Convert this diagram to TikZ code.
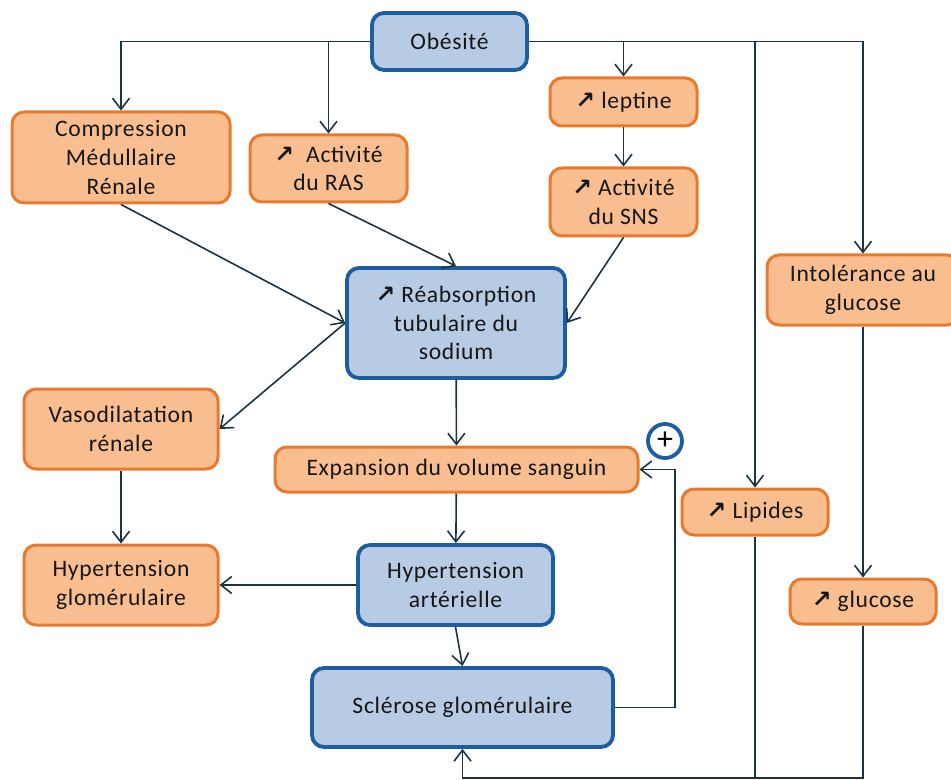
\documentclass[tikz,border=0pt]{standalone}
\usepackage{fontspec}
\setmainfont{Carlito}[LetterSpace=3]
\newfontfamily\symfont{DejaVu Sans}
\usetikzlibrary{arrows.meta}

\definecolor{orfill}{RGB}{249,190,143}
\definecolor{orline}{RGB}{232,121,45}
\definecolor{blfill}{RGB}{184,203,228}
\definecolor{blline}{RGB}{28,94,160}
\definecolor{fleche}{RGB}{28,52,66}
\definecolor{texte}{RGB}{22,22,22}

\newcommand{\hausse}{{\symfont\bfseries ↗}}

\tikzset{
  boite/.style={rectangle, rounded corners=6pt, align=center, inner sep=0pt,
    text=texte, font=\fontsize{11.8}{14.3}\selectfont},
  orangebox/.style={boite, draw=orline, fill=orfill, line width=1.5pt},
  bluebox/.style={boite, draw=blline, fill=blfill, line width=1.9pt},
  taille/.style 2 args={minimum width=#1*0.5pt, minimum height=#2*0.5pt},
  fl/.style={draw=fleche, line width=0.8pt, -{Straight Barb[length=5.5pt,width=8.5pt]}},
  trait/.style={draw=fleche, line width=0.8pt}
}

\begin{document}
\begin{tikzpicture}[x=0.5pt,y=-0.5pt]
\useasboundingbox (0,0) rectangle (951,780);

\node[bluebox, taille={155}{57}] (obesite) at (449.5,41.5) {Obésité};
\node[orangebox, taille={218}{91}] (compression) at (121,157.5) {Compression\\Médullaire\\Rénale};
\node[orangebox, taille={157}{67}] (ras) at (328.5,168.5) {\hausse\ \ Activité\\du RAS};
\node[orangebox, taille={147}{48}] (leptine) at (623.5,102) {\hausse\ leptine};
\node[orangebox, taille={147}{68}] (sns) at (623.5,202) {\hausse\ Activité\\du SNS};
\node[orangebox, taille={192}{70}] (intol) at (863,290) {Intolérance au\\glucose};
\node[bluebox, taille={218}{110}] (reab) at (456,323) {\hausse\ Réabsorption\\tubulaire du\\sodium};
\node[orangebox, taille={194}{80}] (vaso) at (121,429) {Vasodilatation\\rénale};
\node[orangebox, taille={363}{45}] (expansion) at (456.5,469.5) {Expansion du volume sanguin};
\node[orangebox, taille={146}{46}] (lipides) at (755,512) {\hausse\ Lipides};
\node[orangebox, taille={194}{80}] (hypglom) at (121,585) {Hypertension\\glomérulaire};
\node[bluebox, taille={195}{80}] (hypart) at (455.5,585) {Hypertension\\artérielle};
\node[orangebox, taille={146}{45}] (glucose) at (863,601.5) {\hausse\ glucose};
\node[bluebox, taille={301}{79}] (sclerose) at (462.5,707.5) {Sclérose glomérulaire};
\node[circle, draw=blline, line width=1.9pt, minimum size=17pt, inner sep=0pt,
  font=\fontsize{16}{16}\selectfont] (plus) at (665,441) {+};
\coordinate (bas) at (0,778);

\draw[fl] (obesite.west) -| (compression.north);
\draw[fl] (obesite.west -| ras.north) -- (ras.north);
\draw[fl] (obesite.east) -| (intol.north);
\draw[fl] (obesite.east -| leptine.north) -- (leptine.north);
\draw[fl] (obesite.east -| lipides.north) -- (lipides.north);
\draw[fl] (leptine) -- (sns);
\draw[fl] (compression.south) -- (reab.west);
\draw[fl] (ras.south) -- (reab.north);
\draw[fl] (sns.south) -- (reab.east);
\draw[fl] (reab.west) -- (vaso.east);
\draw[fl] (reab) -- (expansion);
\draw[fl] (vaso) -- (hypglom);
\draw[fl] (expansion) -- (hypart);
\draw[fl] (hypart) -- (hypglom);
\draw[fl] (hypart.south) -- (sclerose.north);
\draw[fl] (intol) -- (glucose);
\draw[fl] (sclerose.east) -- ++(60,0) |- (expansion.east);
\draw[trait] (lipides.south) -- (lipides.south |- bas);
\draw[fl] (glucose.south) -- (glucose.south |- bas) -- (sclerose.south |- bas) -- (sclerose.south);
\end{tikzpicture}
\end{document}
